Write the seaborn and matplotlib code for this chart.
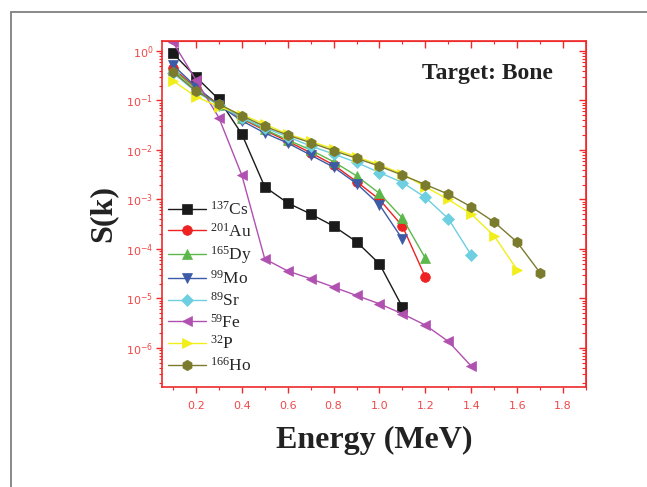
import numpy as np
import pandas as pd
import matplotlib
matplotlib.use("Agg")
import matplotlib.pyplot as plt
import matplotlib.ticker as mticker
from matplotlib.patches import Rectangle
import seaborn as sns

# Energy grid (MeV)
energy = [0.1, 0.2, 0.3, 0.4, 0.5, 0.6, 0.7, 0.8, 0.9, 1.0, 1.1, 1.2, 1.3, 1.4, 1.5, 1.6, 1.7]

# S(k) per isotope, target: bone
s_cs137 = [0.89, 0.30, 0.105, 0.021, 0.0018, 8.5e-4, 5.1e-4, 2.9e-4, 1.4e-4, 5.0e-5, 6.7e-6]
s_au201 = [0.45, 0.18, 0.082, 0.043, 0.025, 0.015, 0.0088, 0.0050, 0.0023, 0.0010, 2.9e-4, 2.7e-5]
s_dy165 = [0.42, 0.17, 0.082, 0.045, 0.026, 0.016, 0.010, 0.0058, 0.0030, 0.00133, 4.2e-4, 6.5e-5]
s_mo99 = [0.52, 0.19, 0.080, 0.039, 0.022, 0.0138, 0.0079, 0.0045, 0.0021, 7.8e-4, 1.58e-4]
s_sr89 = [0.36, 0.15, 0.080, 0.045, 0.028, 0.0185, 0.012, 0.0083, 0.0056, 0.0035, 0.0022, 0.0011, 4.1e-4, 7.5e-5]
s_fe59 = [1.5, 0.26, 0.045, 0.0031, 6.3e-5, 3.6e-5, 2.5e-5, 1.7e-5, 1.15e-5, 7.8e-6, 4.9e-6, 2.9e-6, 1.36e-6, 4.3e-7]
s_p32 = [0.25, 0.12, 0.075, 0.052, 0.033, 0.021, 0.015, 0.0105, 0.0073, 0.0050, 0.0033, 0.0018, 0.0010, 5.1e-4, 1.83e-4, 3.8e-5]
s_ho166 = [0.38, 0.155, 0.085, 0.049, 0.030, 0.020, 0.014, 0.0097, 0.0068, 0.0047, 0.0031, 0.0020, 0.00128, 7.1e-4, 3.5e-4, 1.37e-4, 3.3e-5]

labels = [r"$\mathregular{^{137}}$Cs", r"$\mathregular{^{201}}$Au",
          r"$\mathregular{^{165}}$Dy", r"$\mathregular{^{99}}$Mo",
          r"$\mathregular{^{89}}$Sr", r"$\mathregular{^{59}}$Fe",
          r"$\mathregular{^{32}}$P", r"$\mathregular{^{166}}$Ho"]
series = [s_cs137, s_au201, s_dy165, s_mo99, s_sr89, s_fe59, s_p32, s_ho166]
colors = ["#1a1a1a", "#ee2222", "#5cb84a", "#3c5aa6",
          "#6dcfe0", "#b050b0", "#f2ee1a", "#7b7b2e"]
markers = ["s", "o", "^", "v", "D", "<", ">", "h"]
msizes = [6.5, 7.0, 7.5, 7.5, 6.0, 7.5, 7.5, 7.5]

frames = []
for lab, vals in zip(labels, series):
    frames.append(pd.DataFrame({"Energy": energy[:len(vals)], "S": vals, "iso": lab}))
df = pd.concat(frames, ignore_index=True)

sns.set_style("ticks")
plt.rcParams["font.family"] = ["DejaVu Sans"]
plt.rcParams["mathtext.fontset"] = "dejavusans"
plt.rcParams["mathtext.default"] = "regular"

red = "#ee2a2a"
W, H = 647, 487
fig = plt.figure(figsize=(W / 100, H / 100), dpi=100)
ax = fig.add_axes([161.5 / W, 1 - 387 / H, (586 - 161.5) / W, (387 - 41) / H])

for lab, col, mk, ms in zip(labels, colors, markers, msizes):
    sub = df[df["iso"] == lab]
    sns.lineplot(data=sub, x="Energy", y="S", ax=ax, color=col, marker=mk,
                 markersize=ms, markeredgecolor=col, markeredgewidth=0.5,
                 linewidth=1.0, label=lab, sort=False, estimator=None)

ax.set_yscale("log")
ax.set_xlim(0.05, 1.9)
ax.set_ylim(1.63e-7, 1.59)

ax.xaxis.set_major_locator(mticker.MultipleLocator(0.2))
ax.xaxis.set_minor_locator(mticker.MultipleLocator(0.1))
ax.xaxis.set_major_formatter(mticker.FormatStrFormatter("%.1f"))
ax.yaxis.set_major_locator(mticker.LogLocator(base=10, numticks=20))
ax.yaxis.set_minor_locator(mticker.LogLocator(base=10, subs=np.arange(2, 10), numticks=100))
ax.yaxis.set_minor_formatter(mticker.NullFormatter())

for sp in ax.spines.values():
    sp.set_color(red)
    sp.set_linewidth(1.2)
    sp.set_visible(True)

ax.tick_params(axis="both", which="both", colors=red, labelcolor="#f04848",
               labelsize=8, direction="out", top=False, right=False)
ax.tick_params(axis="both", which="major", length=4, width=1.0)
ax.tick_params(axis="both", which="minor", length=2.5, width=0.8)
ax.tick_params(axis="x", pad=6)
ax.tick_params(axis="y", pad=2)

# mirrored ticks pointing inward on top and right
top = ax.secondary_xaxis("top")
top.xaxis.set_major_locator(mticker.MultipleLocator(0.2))
top.xaxis.set_minor_locator(mticker.MultipleLocator(0.1))
top.tick_params(which="both", direction="in", colors=red, labeltop=False)
top.tick_params(which="major", length=5, width=1.0)
top.tick_params(which="minor", length=2.5, width=0.8)
top.spines["top"].set_color(red)
right = ax.secondary_yaxis("right")
right.yaxis.set_major_locator(mticker.LogLocator(base=10, numticks=20))
right.yaxis.set_minor_locator(mticker.LogLocator(base=10, subs=np.arange(2, 10), numticks=100))
right.tick_params(which="both", direction="in", colors=red, labelright=False)
right.tick_params(which="major", length=5, width=1.0)
right.tick_params(which="minor", length=3, width=0.8)
right.spines["right"].set_color(red)

serif = ["Liberation Serif", "DejaVu Serif"]
ax.set_xlabel("Energy (MeV)", family=serif, fontweight="bold", fontsize=23,
              color="#222222", labelpad=11)
ax.set_ylabel("S(k)", family=serif, fontweight="bold", fontsize=23,
              color="#222222", labelpad=6)
ax.text(0.922, 0.890, "Target: Bone", transform=ax.transAxes, ha="right",
        va="baseline", family=serif, fontweight="bold", fontsize=17, color="#222222")

leg = ax.legend(loc="upper left", bbox_to_anchor=(0.0153, 0.538), frameon=False,
                handlelength=2.2, handletextpad=0.22, labelspacing=0.22,
                borderpad=0, borderaxespad=0,
                prop={"family": serif, "size": 12.5})

# outer page frame
fig.patches.append(Rectangle((11 / W, -0.1), 1.2, 1 - 12 / H + 0.1,
                             transform=fig.transFigure, fill=False,
                             edgecolor="#808080", linewidth=1.3, clip_on=False))

fig.savefig("out.png", dpi=100)
